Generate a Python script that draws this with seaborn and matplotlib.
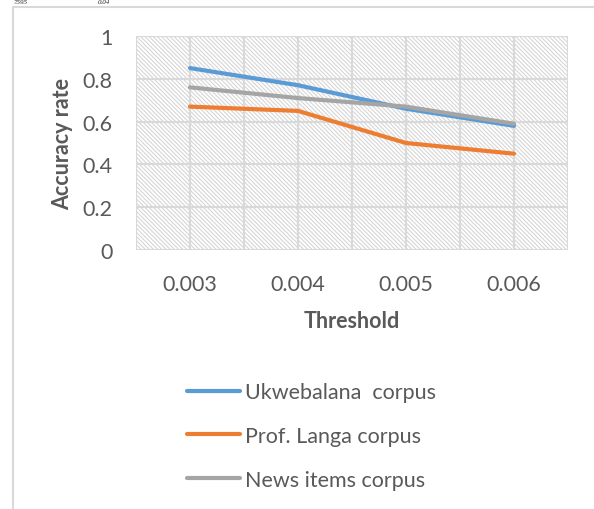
import numpy as np
import pandas as pd
import matplotlib
matplotlib.use("Agg")
import matplotlib.pyplot as plt
from matplotlib.patches import Rectangle
import seaborn as sns

# ---- data ----
thresholds = ["0.003", "0.004", "0.005", "0.006"]
ukwebalana = [0.85, 0.77, 0.66, 0.58]
langa = [0.67, 0.65, 0.50, 0.45]
news = [0.76, 0.71, 0.67, 0.59]
series_names = ["Ukwebalana  corpus", "Prof. Langa corpus", "News items corpus"]
y_ticks = [0, 0.2, 0.4, 0.6, 0.8, 1]
y_tick_labels = ["0", "0.2", "0.4", "0.6", "0.8", "1"]
colors = ["#5B9BD5", "#ED7D31", "#A5A5A5"]
page_fragments = ["7595", "0.04"]

rows = []
for name, vals in zip(series_names, [ukwebalana, langa, news]):
    for i, (t, v) in enumerate(zip(thresholds, vals)):
        rows.append({"pos": i, "threshold": t, "acc": v, "series": name})
df = pd.DataFrame(rows)

sns.set_theme(style="white")
plt.rcParams["font.family"] = ["Lato", "DejaVu Sans"]
plt.rcParams["hatch.linewidth"] = 0.8

TXT = "#595959"
GRID = "#d9d9d9"
FS = 15.5

fig = plt.figure(figsize=(5.94, 5.10), dpi=100)
ax = fig.add_axes([136 / 594, 1 - 251 / 510, (568 - 136) / 594, (251 - 37) / 510])

# hatched plot area background
ax.add_patch(Rectangle((0, 0), 1, 1, transform=ax.transAxes, facecolor="white",
                       edgecolor="#d6d6d6", hatch="\\" * 8, lw=0, zorder=0))

sns.lineplot(data=df, x="pos", y="acc", hue="series", palette=colors,
             hue_order=series_names, linewidth=3.0, ax=ax, legend=True,
             zorder=3)
for ln in ax.get_lines():
    ln.set_solid_capstyle("round")
    ln.set_solid_joinstyle("round")

ax.set_xlim(-0.5, len(thresholds) - 0.5)
ax.set_ylim(0, 1)
ax.set_xticks(range(len(thresholds)))
ax.set_xticklabels(thresholds)
ax.set_xticks(np.arange(-0.5, len(thresholds), 1.0), minor=True)
ax.set_yticks(y_ticks)
ax.set_yticklabels(y_tick_labels)
ax.set_axisbelow(True)
ax.grid(True, which="both", color=GRID, lw=1.5, zorder=1)
ax.tick_params(axis="both", which="both", length=0, labelsize=FS, colors=TXT)
ax.tick_params(axis="y", pad=17)
ax.tick_params(axis="x", pad=17)
for s in ax.spines.values():
    s.set_visible(False)

ax.set_xlabel("Threshold", fontsize=FS, fontweight="bold", color=TXT)
ax.set_ylabel("Accuracy rate", fontsize=FS, fontweight="bold", color=TXT)
ax.xaxis.set_label_coords(0.5, (251 - 311) / 214)
ax.yaxis.set_label_coords((73 - 136) / 432, 0.5)

handles, labels = ax.get_legend_handles_labels()
ax.get_legend().remove()
leg = fig.legend(handles, labels, loc="upper left",
                 bbox_to_anchor=(170 / 594, 1 - 366 / 510),
                 frameon=False, fontsize=FS, handlelength=2.45,
                 handletextpad=0.25, labelspacing=1.1, borderpad=0.3)
for t in leg.get_texts():
    t.set_color(TXT)
for h in leg.legend_handles:
    h.set_linewidth(3.0)
    h.set_solid_capstyle("round")

# outer chart border
fig.add_artist(Rectangle((13 / 594, -0.05), 1.0, 1 - 8 / 510 + 0.05,
                         transform=fig.transFigure, facecolor="none",
                         edgecolor=GRID, lw=1.5, clip_on=False))

# page text fragments above the chart (small, fully inside the figure)
for txt, xpx in zip(page_fragments, [14, 98]):
    fig.text(xpx / 594, 1 - 0.5 / 510, txt, va="top", ha="left",
             fontsize=5, style="italic", family="Liberation Serif",
             color="#222222")

fig.savefig("out.png", dpi=100)
